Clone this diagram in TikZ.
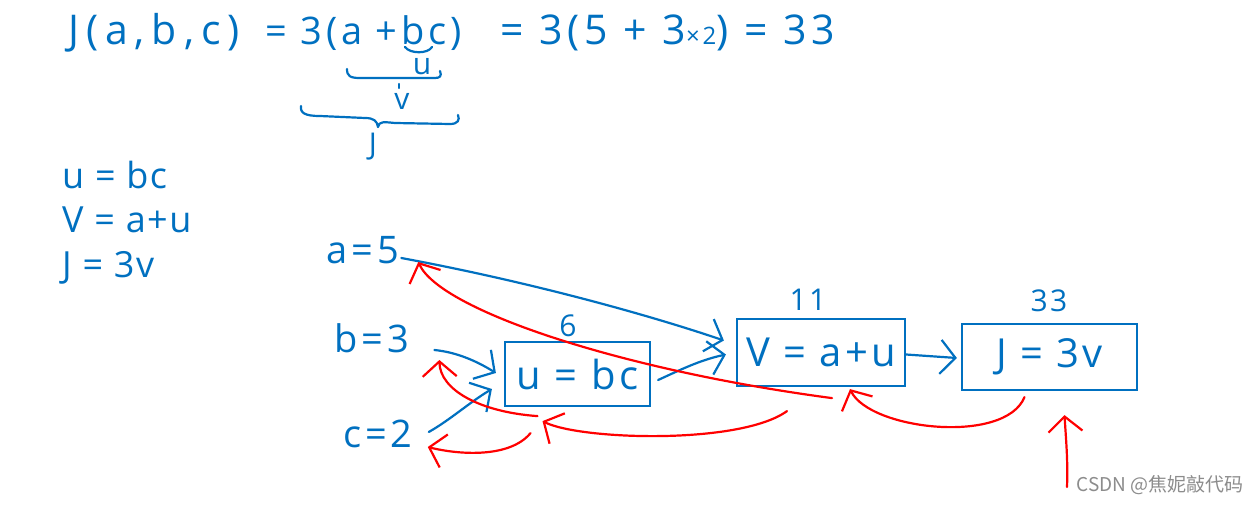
\documentclass[tikz,border=0pt]{standalone}
\usepackage{fontspec}
\setmainfont{Open Sans}
\newfontfamily\cjk{Noto Sans CJK SC}
\usetikzlibrary{arrows.meta}
\definecolor{pen}{RGB}{0,112,192}
\definecolor{redpen}{RGB}{255,0,0}
\begin{document}
\begin{tikzpicture}[x=1pt,y=-1pt,
  bink/.style={draw=pen, line width=2.2pt, line cap=round, line join=round},
  rink/.style={draw=redpen, line width=2.2pt, line cap=round, line join=round},
  hand/.style={text=pen, inner sep=0pt, font=\fontsize{38}{42}\selectfont\addfontfeature{LetterSpace=10}},
  tophand/.style={text=pen, inner sep=0pt, font=\fontsize{41}{44}\selectfont\addfontfeature{LetterSpace=17}},
  tophandb/.style={text=pen, inner sep=0pt, font=\fontsize{41}{44}\selectfont\addfontfeature{LetterSpace=12}},
  lefthand/.style={text=pen, inner sep=0pt, font=\fontsize{36}{40}\selectfont\addfontfeature{LetterSpace=4}},
  small/.style={text=pen, inner sep=0pt, font=\fontsize{30}{34}\selectfont\addfontfeature{LetterSpace=8}},
  fbox/.style={draw=pen, line width=2.2pt, inner sep=0pt, text=pen, font=\fontsize{40}{44}\selectfont\addfontfeature{LetterSpace=8}},
  tip/.style={-{Straight Barb[length=15pt,width=34pt]}}
]
\useasboundingbox (0,0) rectangle (1260,505);
\fill[white] (0,0) rectangle (1260,505);

% top formula
\node[tophand, anchor=west] (f1) at (68,33) {J(a,b,c)};
\node[hand, anchor=west] (f2) at (265,33) {= 3(a +bc)};
\node[tophandb, anchor=west] (f3) at (500,33) {= 3(5 + 3{\fontsize{24}{26}\selectfont×2}) = 33};

% braces
\draw[bink] (405,47) .. controls (410,54) and (428,54) .. (432,47);
\draw[bink] (347,69) .. controls (347,76) and (350,78) .. (360,78) -- (435,78) .. controls (440,78) and (442,76) .. (440,71);
\node[small, anchor=center] (lu) at (422,67) {u};
\draw[bink] (399,84) -- (399,88);
\node[small, anchor=center] (lv) at (402,101) {v};
\draw[bink] (301,106) .. controls (300,113) and (305,116) .. (320,116) -- (365,118) .. controls (374,118) and (377,121) .. (378,127)
  .. controls (379,121) and (384,122) .. (395,123) -- (450,124) .. controls (458,124) and (460,120) .. (458,115);
\node[small, anchor=center] (lJ) at (373,147) {J};

% left equations
\node[lefthand, anchor=west] (e1) at (62,175) {u = bc};
\node[lefthand, anchor=west] (e2) at (62,220) {V = a+u};
\node[lefthand, anchor=west] (e3) at (62,268) {J = 3v};

% inputs
\node[hand, anchor=center] (a5) at (363,250) {a=5};
\node[hand, anchor=center] (b3) at (372,338) {b=3};
\node[hand, anchor=center] (c2) at (378,434) {c=2};

% boxes
\node[fbox, minimum width=145pt, minimum height=64pt] (bu) at (577.5,374) {u = bc};
\node[fbox, minimum width=168pt, minimum height=67pt] (bv) at (821,352.5) {V = a+u};
\node[fbox, minimum width=175pt, minimum height=66pt] (bJ) at (1049.5,357) {J = 3v};

% values
\node[small, anchor=center] (n6) at (568,326) {6};
\node[small, anchor=center] (n11) at (808,300) {11};
\node[small, anchor=center] (n33) at (1049,301) {33};

% blue forward arrows
\draw[bink, tip] ([shift={(2,8)}]a5.east) .. controls (520,280) and (640,312) .. ([shift={(-12,-12)}]bv.west);
\draw[bink, tip] ([shift={(25,12)}]b3.east) .. controls (455,352) and (475,360) .. ([shift={(-8,-1)}]bu.west);
\draw[bink, tip] ([shift={(16,-2)}]c2.east) .. controls (450,420) and (470,402) .. ([shift={(-12,15)}]bu.west);
\draw[bink, tip] ([shift={(7,6)}]bu.east) .. controls (680,370) and (700,360) .. ([shift={(-10,2)}]bv.west);
\draw[bink, tip] ([shift={(0,2)}]bv.east) -- ([shift={(-4,1)}]bJ.west);

% red backward arrows
\coordinate (jin) at (1067,487);
\draw[rink, tip] (jin) .. controls (1068,460) and (1066,440) .. ([shift={(15,24)}]bJ.south);
\draw[rink, tip] ([shift={(-25,6)}]bJ.south) .. controls (1005,445) and (870,430) .. ([shift={(29,2)}]bv.south);
\draw[rink, tip] ([shift={(-34,24)}]bv.south) .. controls (740,445) and (580,440) .. ([shift={(-35,14)}]bu.south);
\draw[rink, tip] ([shift={(11,11)}]bv.south) .. controls (620,370) and (440,310) .. ([shift={(19,12)}]a5.east);
\draw[rink, tip] ([shift={(-40,9)}]bu.south) .. controls (480,412) and (440,390) .. ([shift={(30,22)}]b3.east);
\draw[rink, tip] ([shift={(-47,26)}]bu.south) .. controls (510,458) and (460,455) .. ([shift={(15,13)}]c2.east);

% watermark
\node[anchor=center, text=black!45, inner sep=0pt, font=\cjk\fontsize{19}{21}\selectfont] (wm) at (1160,485) {CSDN @焦妮敲代码};
\end{tikzpicture}
\end{document}
